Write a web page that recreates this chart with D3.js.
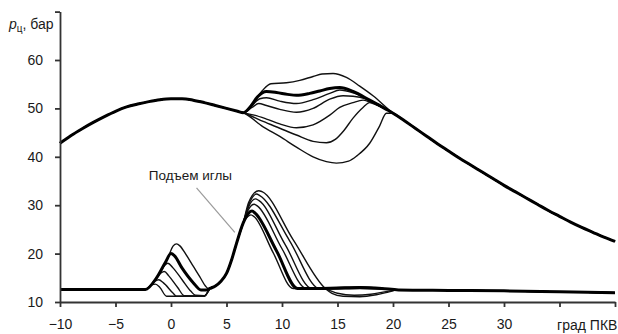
<!DOCTYPE html>
<html>
<head>
<meta charset="utf-8">
<script src="https://cdn.jsdelivr.net/npm/d3@7"></script>
<style>
  html, body { margin: 0; padding: 0; background: #fff; }
  svg { display: block; }
  text { font-family: "Liberation Sans Narrow", "Arial Narrow", "Helvetica Neue", Arial, sans-serif; fill: #1a1a1a; }
</style>
</head>
<body>
<svg id="chart" width="618" height="334"></svg>
<script>
// Crank angle, deg, and cylinder pressure, bar.
const xTicks = [-10, -5, 0, 5, 10, 15, 20, 25, 30, 35, 40];
const xTickLabels = ["−10", "−5", "0", "5", "10", "15", "20", "25", "30", "", ""];
const yTicks = [10, 20, 30, 40, 50, 60, 70];
const yTickLabels = ["10", "20", "30", "40", "50", "60", ""];
const xUnit = "град ПКВ";
const needleLabel = "Подъем иглы";

// Compression stroke, common to all runs
const compression = [[-10, 42.8], [-9, 44.4], [-8, 45.8], [-7, 47.1], [-6, 48.3], [-5, 49.4], [-4, 50.3],
  [-3, 50.9], [-2, 51.4], [-1, 51.8], [0, 52.0], [1, 52.0], [2, 51.7], [3, 51.2], [4, 50.6], [5, 50.0], [6, 49.4], [6.5, 49.1]];

// Expansion stroke, common to all runs
const expansion = [[20, 49.0], [21, 47.5], [22, 45.9], [23, 44.3], [24, 42.7], [25, 41.2], [26, 39.7], [27, 38.3],
  [28, 36.9], [29, 35.5], [30, 34.1], [31, 32.8], [32, 31.5], [33, 30.2], [34, 28.9], [35, 27.7], [36, 26.5],
  [37, 25.4], [38, 24.4], [39, 23.4], [40, 22.5]];

// Combustion part of each run (bold = reference run)
const pressureBold = [[7.2, 50.5], [7.8, 52.4], [8.6, 53.5], [9.5, 53.3], [10.5, 52.9], [11.3, 52.7], [12.5, 53.1],
  [13.4, 53.6], [14.3, 54.1], [15.2, 54.3], [16.4, 53.5], [17.9, 51.7], [19.4, 49.8]];
const pressure1 = [[7.3, 50.8], [8.2, 53.6], [9.0, 55.1], [10.4, 55.3], [11.6, 55.8], [12.8, 56.6], [13.6, 57.1],
  [14.6, 57.2], [15.8, 56.4], [17.0, 54.6], [18.2, 52.6], [19.4, 50.2]];
const pressure2 = [[7.3, 50.6], [8.0, 52.0], [8.6, 52.2], [9.8, 51.5], [11.3, 51.0], [12.8, 51.8], [14.3, 53.1],
  [15.2, 53.8], [16.4, 53.2], [17.9, 51.6], [19.4, 49.8]];
const pressure3 = [[7.3, 50.2], [7.9, 51.0], [8.6, 50.6], [9.8, 49.8], [11.3, 49.2], [12.8, 50.0], [14.3, 51.9],
  [15.5, 52.6], [16.4, 52.5], [17.5, 52.0], [18.5, 50.8], [19.4, 49.8]];
const pressure4 = [[7.5, 48.6], [8.6, 47.8], [9.8, 46.8], [11.3, 46.0], [12.8, 46.6], [14.3, 48.6], [15.2, 50.2],
  [16.4, 51.2], [17.3, 51.7], [18.2, 51.0], [19.4, 49.8]];
const pressure5 = [[8.3, 47.3], [9.8, 45.9], [11.3, 44.5], [12.8, 43.2], [14.0, 42.9], [14.8, 43.6], [15.6, 45.5],
  [16.4, 48.0], [17.3, 50.2], [17.9, 51.2], [18.6, 51.0], [19.4, 49.8]];
const pressure6 = [[8.3, 46.2], [9.8, 44.2], [11.3, 42.0], [12.8, 40.0], [14.0, 39.0], [14.9, 38.7], [16.0, 39.1],
  [16.8, 40.3], [17.9, 42.8], [18.8, 46.4], [19.4, 49.0]];

// Needle lift traces (drawn on the same scale): idle level, pilot and main injection
const liftStart = [[-10, 12.6], [-6, 12.6], [-2.3, 12.6]];
const liftTail = [[20.5, 12.5], [25, 12.4], [30, 12.3], [35, 12.1], [40, 11.9]];
const mainRise = [[3.5, 12.8], [4.0, 13.3], [4.5, 14.3], [5.0, 15.9], [5.5, 19.0], [5.9, 22.1], [6.5, 26.3]];

const liftBold = [[-1.3, 15.0], [-0.5, 18.2], [0, 20.0], [0.3, 19.6], [1.0, 17.0], [2.0, 14.0], [2.7, 12.5], [3.2, 12.5],
  [7.0, 28.4], [7.3, 28.8], [7.6, 28.3], [9.5, 20.6], [11.4, 12.8], [13, 12.8], [15, 12.9], [17, 13.0], [19, 12.8]];
const lift1 = [[-1.3, 15.0], [-0.3, 19.0], [0.2, 21.6], [0.5, 22.0], [0.8, 21.6], [1.3, 20.0], [2.0, 17.4], [2.6, 15.2],
  [3.1, 13.3], [3.4, 12.7], [7.0, 30.6], [7.9, 33.0], [8.2, 32.8], [11.0, 22.9], [13.9, 12.8], [14.5, 11.8], [15.5, 11.2],
  [17, 11.1], [18.5, 11.5], [19.5, 12.0]];
const lift2 = [[-1.3, 15.0], [-0.6, 17.5], [-0.3, 18.0], [0.2, 17.0], [1.0, 14.6], [1.8, 12.2], [2.2, 11.4], [3.0, 11.3],
  [3.4, 12.4], [7.0, 30.1], [7.7, 32.3], [8.0, 32.0], [10.7, 22.6], [13.3, 12.8], [14.0, 12.6], [15.0, 11.8], [16.5, 11.4],
  [18, 11.6], [19.5, 12.2]];
const lift3 = [[-1.3, 15.0], [-0.9, 16.0], [-0.6, 16.3], [-0.2, 15.4], [0.6, 13.0], [1.2, 11.3], [3.0, 11.2], [3.4, 12.4],
  [7.0, 29.7], [7.6, 31.3], [7.9, 31.0], [10.3, 21.8], [12.7, 12.8], [14.5, 12.9], [17, 13.1], [19, 12.8]];
const lift4 = [[-1.5, 14.2], [-1.1, 14.6], [-0.7, 14.0], [0.2, 11.8], [0.5, 11.2], [3.0, 11.2], [3.4, 12.4],
  [7.0, 29.2], [7.5, 30.2], [7.8, 29.8], [10.0, 21.0], [12.2, 12.8], [14.5, 12.8], [17, 12.9], [19, 12.7]];
const lift5 = [[-1.7, 13.6], [-1.4, 13.7], [-1.0, 13.0], [-0.4, 11.2], [3.0, 11.2], [3.4, 12.4],
  [6.9, 27.6], [7.2, 28.0], [7.5, 27.6], [9.2, 20.2], [11.0, 12.8], [14, 12.7], [17, 12.8], [19, 12.7]];

// Leader for the needle-lift label: text anchor, line start, line end (deg, bar)
const labelAt = [1.75, 35.3];
const leaderFrom = [2.3, 33.6];
const leaderTo = [5.75, 24.4];

const svg = d3.select("#chart");
const x = d3.scaleLinear().domain([-10, 40]).range([60, 615]);
const y = d3.scaleLinear().domain([10, 70]).range([302, 11.6]);

const line = d3.line().x(d => x(d[0])).y(d => y(d[1])).curve(d3.curveMonotoneX);

const fullPressure = mid => [...compression, ...mid, ...expansion];
const fullLift = mid => {
  // main rise is shared until the traces separate near the top
  const pre = mid.filter(d => d[0] < 3.6);
  const post = mid.filter(d => d[0] >= 3.6);
  return [...liftStart, ...pre, ...mainRise, ...post, ...liftTail];
};

const thinPressure = [pressure1, pressure2, pressure3, pressure4, pressure5, pressure6];
const thinLift = [lift1, lift2, lift3, lift4, lift5];

const plot = svg.append("g");

thinLift.forEach(s => plot.append("path")
  .attr("d", line(fullLift(s)))
  .attr("fill", "none").attr("stroke", "#111").attr("stroke-width", 1.4));
thinPressure.forEach(s => plot.append("path")
  .attr("d", line(fullPressure(s)))
  .attr("fill", "none").attr("stroke", "#111").attr("stroke-width", 1.4));

plot.append("path")
  .attr("d", line(fullLift(liftBold)))
  .attr("fill", "none").attr("stroke", "#000").attr("stroke-width", 3);
plot.append("path")
  .attr("d", line(fullPressure(pressureBold)))
  .attr("fill", "none").attr("stroke", "#000").attr("stroke-width", 3);

// Annotation
svg.append("line")
  .attr("x1", x(leaderFrom[0])).attr("y1", y(leaderFrom[1]))
  .attr("x2", x(leaderTo[0])).attr("y2", y(leaderTo[1]))
  .attr("stroke", "#9a9a9a").attr("stroke-width", 1.2);
svg.append("text")
  .attr("x", x(labelAt[0])).attr("y", y(labelAt[1]))
  .attr("text-anchor", "middle").attr("font-size", 13.5)
  .text(needleLabel);

// Axes
const xAxis = d3.axisBottom(x).tickValues(xTicks)
  .tickFormat((d, i) => xTickLabels[i]).tickSize(5).tickPadding(12).tickSizeOuter(0);
const yAxis = d3.axisLeft(y).tickValues(yTicks)
  .tickFormat((d, i) => yTickLabels[i]).tickSize(5).tickPadding(12).tickSizeOuter(0);

const gx = svg.append("g").attr("transform", `translate(0,${y(10)})`).call(xAxis);
const gy = svg.append("g").attr("transform", `translate(${x(-10)},0)`).call(yAxis);
[gx, gy].forEach(g => {
  g.selectAll("path, line").attr("stroke", "#333").attr("stroke-width", 1.8);
  g.selectAll("text").attr("font-size", 14).attr("fill", "#1a1a1a")
    .attr("font-family", "'Liberation Sans Narrow', 'Arial Narrow', Arial, sans-serif");
});

svg.append("text")
  .attr("x", (x(35) + x(40)) / 2).attr("y", y(10) + 28)
  .attr("text-anchor", "middle").attr("font-size", 14)
  .text(xUnit);

const yl = svg.append("text").attr("x", 9).attr("y", 29).attr("font-size", 14);
yl.append("tspan").attr("font-style", "italic").text("p");
yl.append("tspan").attr("font-size", 10).attr("dy", 3).text("ц");
yl.append("tspan").attr("dy", -3).text(", бар");
</script>
</body>
</html>
